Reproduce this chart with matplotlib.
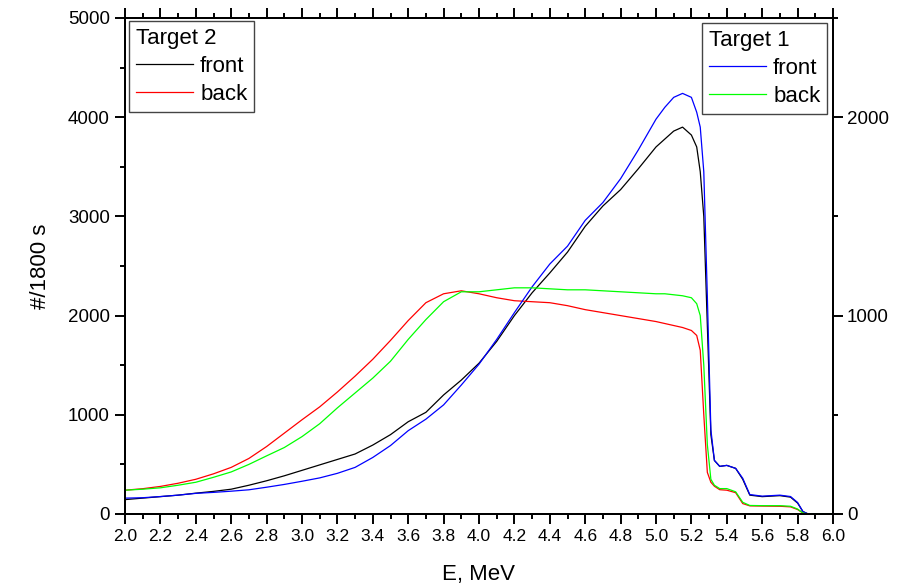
import matplotlib
matplotlib.use("Agg")
import matplotlib.pyplot as plt
from matplotlib.ticker import MultipleLocator
from matplotlib.lines import Line2D

plt.rcParams['font.family'] = ['Liberation Sans', 'DejaVu Sans']

# Energy grid (MeV)
energy = [2.0, 2.1, 2.2, 2.3, 2.4, 2.5, 2.6, 2.7, 2.8, 2.9, 3.0, 3.1, 3.2, 3.3, 3.4,
          3.5, 3.6, 3.7, 3.8, 3.9, 4.0, 4.1, 4.2, 4.3, 4.4, 4.5, 4.6, 4.7, 4.8, 4.9,
          5.0, 5.05, 5.1, 5.15, 5.2, 5.23, 5.25, 5.27, 5.29, 5.31, 5.33, 5.36, 5.40,
          5.45, 5.49, 5.53, 5.6, 5.7, 5.76, 5.80, 5.83, 5.86, 6.0]

# Target 2 (left axis, counts / 1800 s)
t2_front = [145, 160, 175, 190, 210, 228, 250, 290, 335, 385, 440, 495, 550, 605, 695,
            800, 930, 1025, 1200, 1350, 1520, 1740, 2000, 2230, 2430, 2640, 2900, 3105,
            3270, 3480, 3700, 3780, 3860, 3900, 3820, 3700, 3450, 3000, 1900, 800, 540,
            480, 490, 460, 350, 190, 175, 185, 170, 110, 25, 0, 0]
t2_back = [240, 255, 278, 310, 350, 405, 470, 560, 680, 815, 950, 1080, 1230, 1390, 1560,
           1750, 1950, 2130, 2220, 2250, 2220, 2180, 2150, 2140, 2130, 2100, 2060, 2030,
           2000, 1970, 1940, 1920, 1900, 1880, 1850, 1800, 1650, 1000, 420, 320, 280,
           245, 240, 215, 105, 82, 80, 78, 72, 45, 10, 0, 0]

# Target 1 (right axis)
t1_front = [80, 82, 88, 95, 104, 109, 115, 122, 135, 149, 165, 182, 205, 235, 285,
            345, 420, 478, 550, 650, 755, 880, 1015, 1145, 1260, 1350, 1480, 1570,
            1690, 1835, 1990, 2050, 2100, 2120, 2100, 2025, 1950, 1725, 1100, 425, 270,
            240, 245, 230, 180, 98, 90, 95, 88, 58, 12, 0, 0]
t1_back = [120, 125, 132, 145, 160, 185, 212, 250, 293, 335, 390, 455, 535, 610, 685,
           770, 880, 980, 1070, 1120, 1120, 1130, 1140, 1140, 1135, 1130, 1130, 1125,
           1120, 1115, 1110, 1110, 1105, 1100, 1090, 1060, 1000, 750, 350, 175, 145,
           128, 128, 112, 59, 43, 42, 42, 39, 25, 5, 0, 0]

fig = plt.figure(figsize=(9.01, 5.84), dpi=100)
ax = fig.add_axes([125/901, 70/584, 708/901, 496/584])
ax2 = ax.twinx()

lw = 0.9
ax.plot(energy, t2_front, color='black', lw=lw)
ax.plot(energy, t2_back, color='#ff0000', lw=lw)
ax2.plot(energy, t1_front, color='#0000ff', lw=lw)
ax2.plot(energy, t1_back, color='#00ff00', lw=lw)

ax.set_xlim(2.0, 6.0)
ax.set_ylim(0, 5000)
ax2.set_ylim(0, 2500)

ax.xaxis.set_major_locator(MultipleLocator(0.2))
ax.xaxis.set_minor_locator(MultipleLocator(0.1))
ax.yaxis.set_major_locator(MultipleLocator(1000))
ax.yaxis.set_minor_locator(MultipleLocator(500))
ax2.yaxis.set_major_locator(MultipleLocator(1000))
ax2.yaxis.set_minor_locator(MultipleLocator(500))
ax.xaxis.set_major_formatter(matplotlib.ticker.FormatStrFormatter('%.1f'))

for a in (ax, ax2):
    for s in a.spines.values():
        s.set_linewidth(1.4)

ax.tick_params(axis='x', which='major', direction='out', length=7, width=1.4,
               labelsize=12.5, pad=4, top=True)
ax.tick_params(axis='x', which='minor', direction='out', length=3.5, width=1.4, top=True)
ax.tick_params(axis='y', which='major', direction='out', length=7, width=1.4,
               labelsize=13.5, pad=4)
ax.tick_params(axis='y', which='minor', direction='out', length=3.5, width=1.4)
ax2.tick_params(axis='y', which='major', direction='out', length=7, width=1.4,
                labelsize=13.5, pad=3)
ax2.tick_params(axis='y', which='minor', direction='out', length=3.5, width=1.4)
ax.tick_params(axis='x', which='both', labeltop=False)

ax.set_xlabel('E, MeV', fontsize=16, labelpad=14)
ax.set_ylabel('#/1800 s', fontsize=16, labelpad=12)

leg_kw = dict(fontsize=16, title_fontsize=16, frameon=True, fancybox=False,
              edgecolor='#444444', framealpha=1, borderaxespad=0,
              handlelength=2.6, handletextpad=0.3, labelspacing=0.32,
              borderpad=0.3, alignment='left')

h2 = [Line2D([], [], color='black', lw=lw), Line2D([], [], color='#ff0000', lw=lw)]
leg2 = ax2.legend(h2, ['front', 'back'], title='Target 2', loc='upper left',
                  bbox_to_anchor=(0.0056, 0.994), **leg_kw)
leg2.get_frame().set_linewidth(1.0)
ax2.add_artist(leg2)

h1 = [Line2D([], [], color='#0000ff', lw=lw), Line2D([], [], color='#00ff00', lw=lw)]
leg1 = ax2.legend(h1, ['front', 'back'], title='Target 1', loc='upper right',
                  bbox_to_anchor=(0.9915, 0.99), **leg_kw)
leg1.get_frame().set_linewidth(1.0)

fig.savefig('out.png', dpi=100)
